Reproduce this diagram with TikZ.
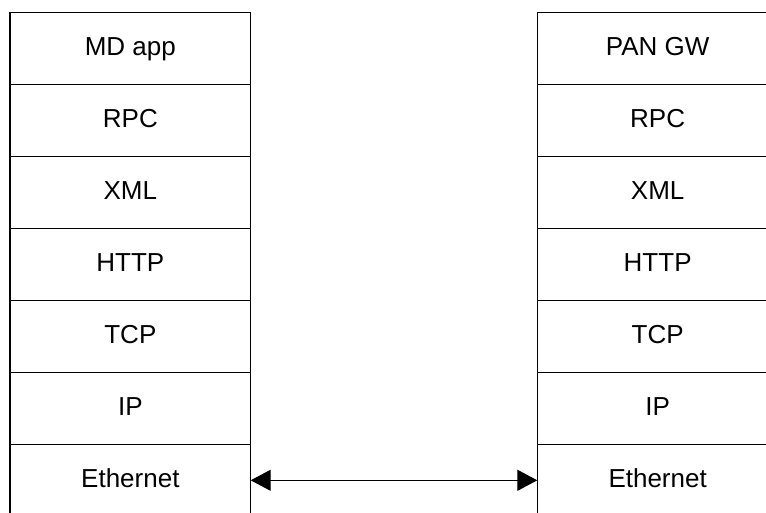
\documentclass[tikz,border=0pt]{standalone}
\usepackage{fontspec}
\setmainfont{Liberation Sans}
\usetikzlibrary{arrows.meta}
\begin{document}
\begin{tikzpicture}[x=1pt,y=-1pt,
  layer/.style={draw, line width=1.3pt, minimum width=240.7pt, minimum height=72pt,
    inner sep=0pt, outer sep=0pt, anchor=north west, text height=18.6pt, text depth=5pt,
    font=\fontsize{26}{30}\selectfont},
  link/.style={line width=1.3pt, {Triangle[length=20pt,width=21pt]}-{Triangle[length=20pt,width=21pt]}}]
\useasboundingbox (0,0) rectangle (766,512);
\clip (0,0) rectangle (766,512);
\foreach \t [count=\i] in {MD app,RPC,XML,HTTP,TCP,IP,Ethernet} {
  \node[layer] (l\i) at (10,{12.3+72*(\i-1)}) {\t};
}
\foreach \t [count=\i] in {PAN GW,RPC,XML,HTTP,TCP,IP,Ethernet} {
  \node[layer] (r\i) at (537.3,{12.3+72*(\i-1)}) {\t};
}
\draw[link] (l7.east) -- (r7.west);
\end{tikzpicture}
\end{document}
